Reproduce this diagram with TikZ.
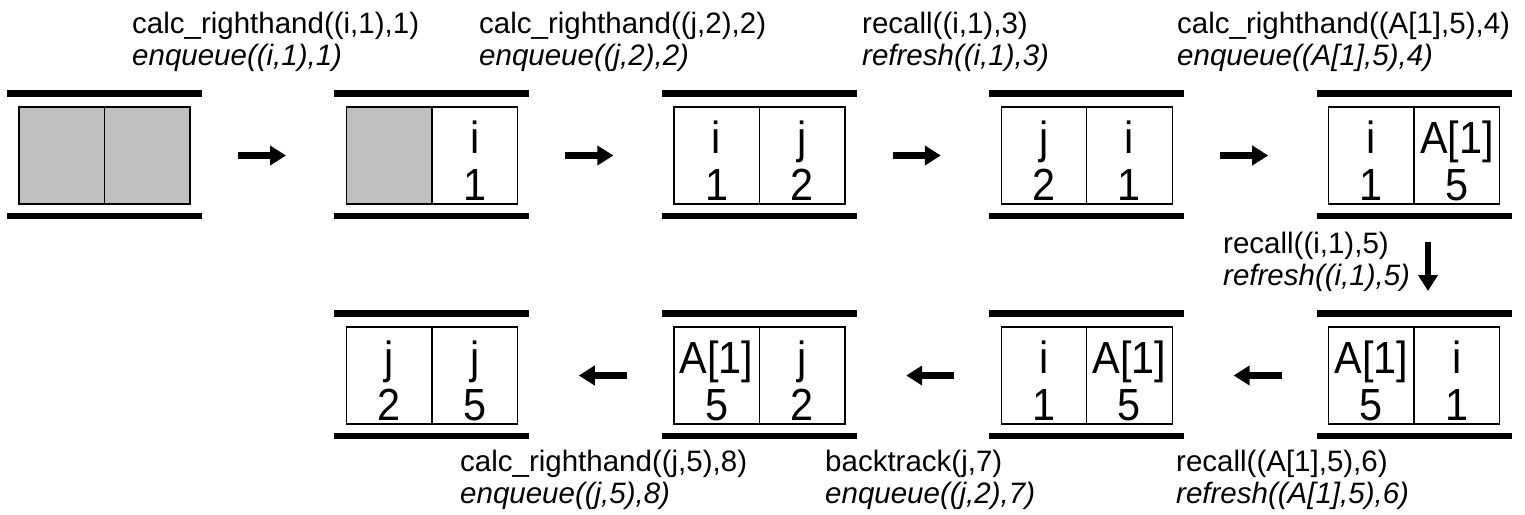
\documentclass[tikz,border=0pt]{standalone}
\usepackage{fontspec}
\setmainfont{Liberation Sans}
\newfontfamily\cellfont[FakeStretch=0.92]{Liberation Sans}
\usetikzlibrary{calc,arrows.meta}

% One queue snapshot: two cells between two thick rails.
% #1 name, #2 centre x, #3 top y, #4/#7 cell styles, #5/#6 and #8/#9 cell texts
\newcommand{\qunit}[9]{%
  \node[#4, anchor=north east] (#1l) at (#2,#3) {};
  \node[#7, anchor=north west] (#1r) at (#2,#3) {};
  \node[celltxt] (#1la) at ($(#1l.north)+(0,46)$) {#5};
  \node[celltxt] (#1lb) at ($(#1l.north)+(0,93)$) {#6};
  \node[celltxt] (#1ra) at ($(#1r.north)+(0,46)$) {#8};
  \node[celltxt] (#1rb) at ($(#1r.north)+(0,93)$) {#9};
  \draw[rail] ($(#1l.north west)+(-12,-13.5)$) -- ($(#1r.north east)+(12,-13.5)$);
  \draw[rail] ($(#1l.south west)+(-12,12)$) -- ($(#1r.south east)+(12,12)$);
}

\begin{document}
\begin{tikzpicture}[x=1pt,y=-1pt,
  cell/.style={draw, line width=1.4pt, minimum width=85.5pt, minimum height=97pt,
               inner sep=0pt, outer sep=0pt},
  full/.style={cell, fill=white},
  empty/.style={cell, fill=black!25},
  celltxt/.style={anchor=base, inner sep=0pt, font=\cellfont\fontsize{45}{50}\selectfont},
  rail/.style={line width=6.5pt, line cap=butt},
  flow/.style={line width=6.5pt, -{Triangle[length=16pt,width=19pt]}},
  lbl/.style={anchor=base west, inner sep=0pt, font=\fontsize{29.5}{32}\selectfont},
  lbli/.style={lbl, font=\fontsize{29.5}{32}\selectfont\itshape}]
\useasboundingbox (0,0) rectangle (1525,514);

% first row, left to right
\qunit{u1}{104.5}{107}{empty}{}{}{empty}{}{}
\qunit{u2}{431.9}{107}{empty}{}{}{full}{i}{1}
\qunit{u3}{759.3}{107}{full}{i}{1}{full}{j}{2}
\qunit{u4}{1086.7}{107}{full}{j}{2}{full}{i}{1}
\qunit{u5}{1414.1}{107}{full}{i}{1}{full}{A[1]}{5}

% second row, right to left
\qunit{u6}{1414.1}{327}{full}{A[1]}{5}{full}{i}{1}
\qunit{u7}{1086.7}{327}{full}{i}{1}{full}{A[1]}{5}
\qunit{u8}{759.3}{327}{full}{A[1]}{5}{full}{j}{2}
\qunit{u9}{431.9}{327}{full}{j}{2}{full}{j}{5}

% step arrows
\foreach \k/\cx in {1/104.5, 2/431.9, 3/759.3, 4/1086.7}{
  \coordinate (f\k s) at (\cx+133.5,155.5);
  \coordinate (f\k e) at (\cx+181.5,155.5);
  \draw[flow] (f\k s) -- (f\k e);
}
\coordinate (d s) at (1428,242);
\coordinate (d e) at (1428,291);
\draw[flow] (d s) -- (d e);
\foreach \k/\cx in {6/1414.1, 7/1086.7, 8/759.3}{
  \coordinate (b\k s) at (\cx-132.5,375.5);
  \coordinate (b\k e) at (\cx-180.5,375.5);
  \draw[flow] (b\k s) -- (b\k e);
}

% operation labels
\node[lbl]  (t1a) at (132,33) {calc\_righthand((i,1),1)};
\node[lbli] (t1b) at (132,65) {enqueue((i,1),1)};
\node[lbl]  (t2a) at (479,33) {calc\_righthand((j,2),2)};
\node[lbli] (t2b) at (479,65) {enqueue((j,2),2)};
\node[lbl]  (t3a) at (862,33) {recall((i,1),3)};
\node[lbli] (t3b) at (862,65) {refresh((i,1),3)};
\node[lbl]  (t4a) at (1177,33) {calc\_righthand((A[1],5),4)};
\node[lbli] (t4b) at (1177,65) {enqueue((A[1],5),4)};
\node[lbl]  (t5a) at (1223,253) {recall((i,1),5)};
\node[lbli] (t5b) at (1223,285) {refresh((i,1),5)};
\node[lbl]  (t6a) at (1176,471) {recall((A[1],5),6)};
\node[lbli] (t6b) at (1176,503) {refresh((A[1],5),6)};
\node[lbl]  (t7a) at (825,471) {backtrack(j,7)};
\node[lbli] (t7b) at (825,503) {enqueue((j,2),7)};
\node[lbl]  (t8a) at (460,471) {calc\_righthand((j,5),8)};
\node[lbli] (t8b) at (460,503) {enqueue((j,5),8)};
\end{tikzpicture}
\end{document}
